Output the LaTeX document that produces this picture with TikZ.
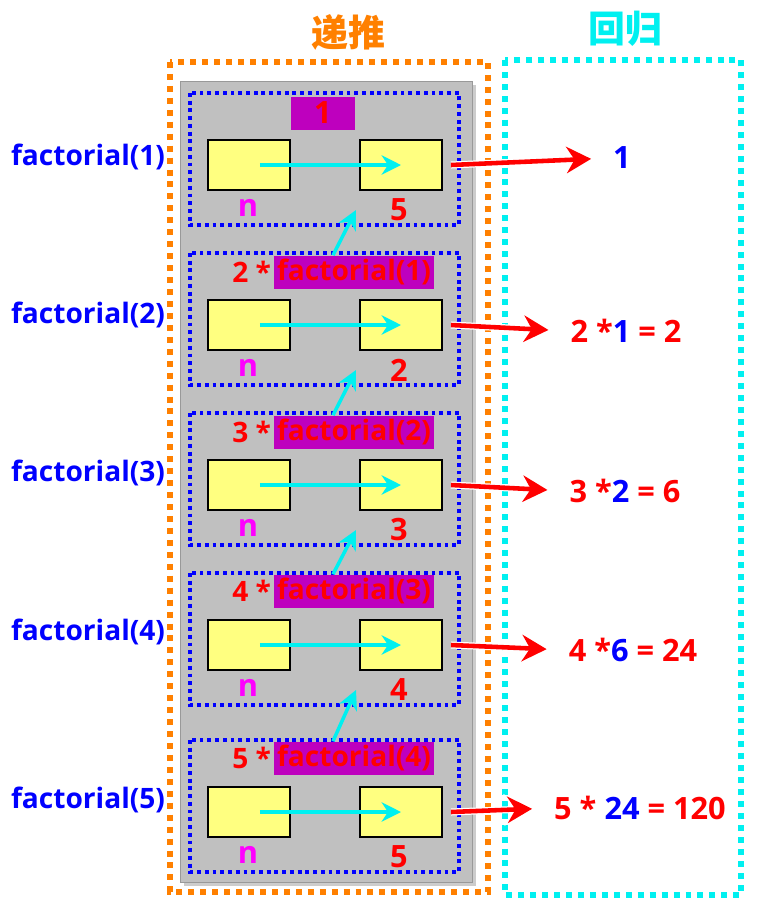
\documentclass[tikz,border=0pt]{standalone}
\usepackage{fontspec}
\setmainfont{Open Sans}
\newfontfamily\cjk{Noto Sans CJK SC}
\usetikzlibrary{arrows.meta,shadows}
\definecolor{myorange}{RGB}{255,128,0}
\definecolor{myyellow}{RGB}{255,255,128}
\definecolor{mymagenta}{RGB}{190,0,190}
\definecolor{mypink}{RGB}{255,0,255}
\definecolor{mygray}{RGB}{192,192,192}
\definecolor{mycyan}{RGB}{0,240,240}
\tikzset{
  lab/.style={font=\fontsize{16}{18}\selectfont\bfseries, inner sep=1pt},
  big/.style={font=\fontsize{17.5}{19}\selectfont\bfseries, inner sep=1pt},
  title/.style={font=\cjk\bfseries\fontsize{21}{23}\selectfont},
  callbox/.style={draw=blue, line width=2pt, dash pattern=on 2.2pt off 2.2pt},
  cell/.style={draw=black, line width=1.6pt, fill=myyellow, minimum width=1.64cm, minimum height=1cm, inner sep=0pt},
  fcall/.style={lab, fill=mymagenta, text=red, minimum height=0.66cm, inner sep=2pt},
  pass/.style={draw=mycyan, line width=2pt, -{Stealth[length=11pt,width=11pt]}},
  back/.style={draw=red, line width=2.6pt, -{Stealth[length=14pt,width=15pt]}, shorten >=0.4cm,
    preaction={draw=white, line width=4pt, -{Stealth[length=16pt,width=18pt]}}}
}
\begin{document}
\begin{tikzpicture}[x=0.02cm,y=-0.02cm]
\useasboundingbox (0,0) rectangle (760,914);
% titles and the two outer frames
\node[title, myorange] (t1) at (348,32) {递推};
\node[title, mycyan] (t2) at (625,29) {回归};
\draw[myorange, line width=3pt, dash pattern=on 3.4pt off 3.4pt] (170,62) rectangle (488,892);
\draw[mycyan, line width=3pt, dash pattern=on 3.4pt off 3.4pt] (505,60) rectangle (741,895);
\fill[mygray, draw=gray!80, drop shadow={shadow xshift=2pt, shadow yshift=-2pt, opacity=0.4}] (180,81) rectangle (472,882);
% one frame per call
\foreach \k/\y/\v/\fy/\rx/\ry/\res in {
    1/165/5/157/622/158/{\textcolor{blue}{1}},
    2/325/2/315/626/331/{2 *\textcolor{blue}{1} = 2},
    3/485/3/473/625/491/{3 *\textcolor{blue}{2} = 6},
    4/645/4/632/633/650/{4 *\textcolor{blue}{6} = 24},
    5/812/5/800/640/808/{5 * \textcolor{blue}{24} = 120}}{
  \draw[callbox] (190,\y-72) rectangle (459,\y+60);
  \node[cell] (n\k) at (249,\y) {};
  \node[cell] (v\k) at (401,\y) {};
  \node[big, mypink] (nl\k) at (248,\y+43) {n};
  \node[big, red] (vl\k) at (399,\y+45) {\v};
  \draw[pass] ([xshift=0.22cm]n\k.center) -- (v\k.center);
  \node[lab, blue] (f\k) at (88,\fy) {factorial(\k)};
  \node[big, red] (r\k) at (\rx,\ry) {\res};
  \draw[back] ([xshift=0.15cm]v\k.east) -- (r\k.west);
}
% the calls that wait for the frame above
\node[fcall, big, minimum width=1.28cm] (c1) at (323,113) {1};
\foreach \k/\p/\y in {2/1/272, 3/2/432, 4/3/591, 5/4/758}{
  \node[fcall, minimum width=3.16cm] (c\k) at (354,\y) {factorial(\p)};
  \node[lab, red, anchor=east] (m\k) at (c\k.west) {\k\ *};
  \draw[pass] ([xshift=-0.42cm]c\k.north) -- ([xshift=-0.86cm]vl\p.center);
}
\end{tikzpicture}
\end{document}
